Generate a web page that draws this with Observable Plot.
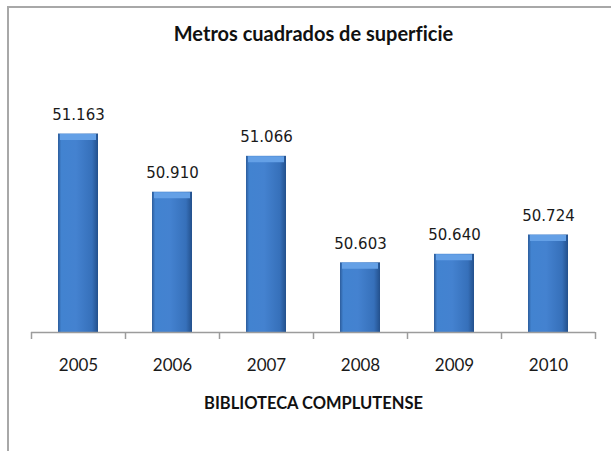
<!DOCTYPE html>
<html>
<head>
<meta charset="utf-8">
<script src="https://cdn.jsdelivr.net/npm/d3@7"></script>
<script src="https://cdn.jsdelivr.net/npm/@observablehq/plot@0.6"></script>
<style>
  html, body { margin: 0; padding: 0; background: #fff; }
  #wrap { position: relative; width: 611px; height: 451px; overflow: hidden; }
  #frame { position: absolute; left: 7px; top: 6px; right: -10px; bottom: -10px;
           border-left: 2px solid #a8a8a8; border-top: 2px solid #a8a8a8; pointer-events: none; }
  #title { height: 70px; box-sizing: border-box; padding-top: 21px; line-height: 24px;
           text-align: center; font-family: Lato, "Open Sans", sans-serif; font-weight: bold;
           font-size: 20px; color: #111; padding-left: 16px; font-variant-ligatures: none; }
  svg { display: block; }
</style>
</head>
<body>
<div id="wrap">
  <div id="title"></div>
  <div id="chart"></div>
  <div id="frame"></div>
</div>
<script>
const chartTitle = "Metros cuadrados de superficie";
const xLabel = "BIBLIOTECA COMPLUTENSE";
const years = ["2005", "2006", "2007", "2008", "2009", "2010"];
const superficie = [51163, 50910, 51066, 50603, 50640, 50724];
const axisMin = 50300;
const axisMax = 51300;

const data = years.map((year, i) => ({year, value: superficie[i]}));
const fmt = d3.formatLocale({decimal: ",", thousands: ".", grouping: [3], currency: ["", ""]}).format(",d");

const width = 611, height = 381;
const marginLeft = 31, marginRight = 16, marginTop = 32, marginBottom = 119;
const step = (width - marginLeft - marginRight) / years.length;

document.getElementById("title").textContent = chartTitle;

const chart = Plot.plot({
  width, height, marginLeft, marginRight, marginTop, marginBottom,
  x: {domain: years, padding: 0},
  y: {domain: [axisMin, axisMax], axis: null},
  marks: [
    Plot.barY(data, {x: "year", y1: axisMin, y2: "value", fill: "url(#barGrad)", insetLeft: 27, insetRight: 27}),
    Plot.tickY(data, {x: "year", y: "value", stroke: "#64a0e6", strokeWidth: 6, dy: 3, insetLeft: 29, insetRight: 29}),
    Plot.ruleY([axisMin], {stroke: "#9c9c9c", strokeWidth: 1.5}),
    Plot.ruleX(years, {x: d => d, y1: axisMin, y2: axisMin, insetBottom: -7, dx: -step / 2, stroke: "#9c9c9c", strokeWidth: 1.5}),
    Plot.ruleX(years.slice(-1), {x: d => d, y1: axisMin, y2: axisMin, insetBottom: -7, dx: step / 2, stroke: "#9c9c9c", strokeWidth: 1.5}),
    Plot.text(data, {x: "year", y: "value", text: d => fmt(d.value), dy: -19, fontSize: 15, fontFamily: "DejaVu Sans", fill: "#1a1a1a"}),
    Plot.axisX({tickSize: 0, tickPadding: 26, fontSize: 17, fontFamily: "Lato", label: null, fill: "#1a1a1a"}),
    Plot.text([xLabel], {frameAnchor: "bottom", dy: 76, fontSize: 16.5, fontWeight: "bold", fontFamily: "Lato", fill: "#111"})
  ]
});

const svg = d3.select(chart);
const defs = svg.insert("defs", ":first-child");
const g = defs.append("linearGradient").attr("id", "barGrad").attr("x1", 0).attr("x2", 1).attr("y1", 0).attr("y2", 0);
[[0, "#2c5c9b"], [0.08, "#4283d0"], [0.45, "#4482d0"], [0.85, "#3670ba"], [1, "#23508c"]]
  .forEach(([o, c]) => g.append("stop").attr("offset", o).attr("stop-color", c));

document.getElementById("chart").appendChild(chart);
</script>
</body>
</html>
